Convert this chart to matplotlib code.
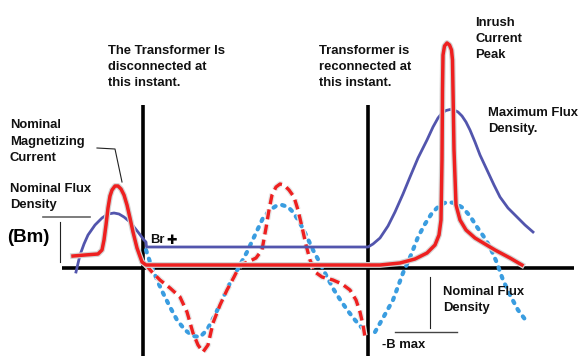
import matplotlib
matplotlib.use("Agg")
import matplotlib.pyplot as plt
import matplotlib.patheffects as pe

# ---- data (diagram coordinates: x to the right, y downwards) ----
flux_x = [76, 80, 84, 88, 95, 102, 108, 114, 119, 124, 130, 138, 144, 146, 146.5, 200, 300,
          362, 368, 373, 380, 388, 395, 403, 410, 418, 427, 433, 438, 442, 446, 450, 454,
          458, 462, 466, 470, 475, 480, 487, 494, 500, 508, 517, 525, 533]
flux_y = [272, 255, 244, 235, 225, 218, 214, 213, 214, 217, 222, 232, 240, 242, 247, 247, 247,
          247, 247, 244, 238, 226, 212, 194, 177, 158, 140, 127, 118, 113, 110.5, 109.5, 110,
          112, 116, 122, 130, 142, 155, 170, 185, 197, 208, 217, 225, 232]

current_x = [73, 85, 98, 102, 104, 106, 108, 110, 112, 115, 118, 121, 124, 127, 130, 133,
             137, 142, 146, 200, 380, 400, 415, 427, 435, 439, 441, 442, 442.5, 443, 444.5,
             447, 449.5, 451.5, 452.5, 453, 454, 456, 460, 466, 475, 485, 495, 510, 522]
current_y = [256, 255, 254, 250, 240, 225, 208, 196, 190, 186, 186, 189, 195, 205, 218, 232,
             248, 262, 265, 265, 265, 263, 259, 253, 245, 235, 220, 160, 90, 55, 46,
             43, 45, 50, 60, 90, 150, 205, 220, 230, 238, 244, 250, 258, 265]

resid_cur_x = [146, 152, 160, 170, 180, 187, 193, 198, 203, 208, 213, 220, 227, 234, 240,
               248, 256, 262, 266, 269, 272, 276, 280, 284, 289, 294, 298, 302, 306, 310,
               315, 322, 333, 342, 350, 356, 360, 363, 365]
resid_cur_y = [265, 272, 280, 288, 297, 312, 333, 345, 352, 345, 323, 305, 290, 277, 265,
               262, 258, 250, 228, 210, 195, 187, 184, 185, 190, 197, 210, 227, 245, 260,
               272, 277, 280, 284, 290, 300, 312, 325, 337]

resid_flux1_x = [146, 150, 157, 163, 170, 177, 185, 193, 200, 207, 215, 222, 230, 240, 247,
                 255, 263, 270, 276, 282, 288, 293, 300, 307, 313, 320, 327, 334, 341, 348,
                 355, 362]
resid_flux1_y = [250, 262, 280, 293, 307, 320, 330, 336, 337, 330, 315, 300, 283, 265, 252,
                 235, 218, 210, 206, 205, 207, 212, 223, 237, 250, 263, 277, 290, 301, 311,
                 320, 328]

resid_flux2_x = [375, 383, 393, 403, 411, 418, 425, 432, 440, 447, 455, 463, 470, 477, 484,
                 490, 497, 503, 510, 518, 527]
resid_flux2_y = [332, 318, 300, 273, 255, 237, 224, 213, 205, 202, 203, 208, 216, 227, 237,
                 247, 263, 280, 295, 310, 322]

axis_h = ([62, 574], [268, 268])
vline1 = ([143, 143], [105, 356])
vline2 = ([368, 368], [105, 356])

# (text, x, y of top of text box)
labels = [
    ("The Transformer Is\ndisconnected at\nthis instant.", 108, 44.5),
    ("Transformer is\nreconnected at\nthis instant.", 319, 44.5),
    ("Inrush\nCurrent\nPeak", 475, 17),
    ("Maximum Flux\nDensity.", 488, 106.5),
    ("Nominal\nMagnetizing\nCurrent", 10, 119.5),
    ("Nominal Flux\nDensity", 10, 182.5),
    ("Nominal Flux\nDensity", 443, 286),
    ("-B max", 382, 339.5),
]

DARK_BLUE = "#5255ad"
RED = "#ee2020"
LIGHT_BLUE = "#3a9de0"

fig = plt.figure(figsize=(5.88, 3.62), dpi=100)
ax = fig.add_axes([0, 0, 1, 1])
ax.set_xlim(0, 588)
ax.set_ylim(362, 0)
ax.axis("off")

halo = [pe.Stroke(linewidth=4.2, foreground="#d4d4d4"), pe.Normal()]

ax.plot(*axis_h, color="black", lw=2.6, solid_capstyle="butt", zorder=2)
ax.plot(*vline1, color="black", lw=2.6, solid_capstyle="butt", zorder=2)
ax.plot(*vline2, color="black", lw=2.6, solid_capstyle="butt", zorder=2)

ax.plot(resid_flux1_x, resid_flux1_y, color=LIGHT_BLUE, lw=3, ls=(0, (0.6, 1.6)),
        dash_capstyle="round", zorder=3)
ax.plot(resid_flux2_x, resid_flux2_y, color=LIGHT_BLUE, lw=3, ls=(0, (0.6, 1.6)),
        dash_capstyle="round", zorder=3)
ax.plot(resid_cur_x, resid_cur_y, color=RED, lw=2.4, ls=(0, (3, 1.6)),
        path_effects=[pe.Stroke(linewidth=4.2, foreground="#e6e6e6"), pe.Normal()], zorder=4)
ax.plot(flux_x, flux_y, color=DARK_BLUE, lw=2, zorder=5, solid_joinstyle="round")
ax.plot(current_x, current_y, color=RED, lw=2.5, path_effects=halo, zorder=6,
        solid_joinstyle="round")

font = dict(family="Liberation Sans", fontweight="bold", fontsize=9.4, color="#111111")
for txt, x, y in labels:
    ax.text(x, y, txt, va="top", ha="left", linespacing=1.45, **font)

ax.text(7, 242, "(Bm)", va="baseline", ha="left", family="Liberation Sans",
        fontweight="bold", fontsize=13.5, color="black")
ax.text(150, 240, "Br", va="center", ha="left", **font)
ax.text(166, 240, "\u271A", va="center", ha="left", family="DejaVu Sans",
        fontsize=9, color="black")

# leader and annotation lines
thin = dict(color="#222222", lw=0.8)
ax.plot([97, 115, 122], [148, 149, 182], **thin)
ax.plot([43, 90], [217, 217], color="#666666", lw=1.2)
ax.plot([60, 60], [222, 262], **thin)
ax.plot([430, 430], [277, 328], **thin)
ax.plot([395, 457], [332, 332], color="#444444", lw=1)

fig.savefig("out.png", dpi=100)
